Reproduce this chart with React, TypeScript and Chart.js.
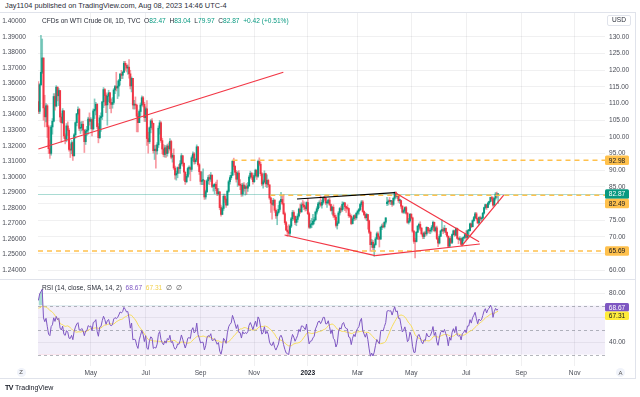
import React, { useEffect, useRef } from 'react';
import { Chart, registerables } from 'chart.js';
Chart.register(...registerables);

const FONT = '"Liberation Sans", Arial, sans-serif';
const UP = '#089981';
const DOWN = '#F23645';
const ORANGE = '#FFC14D';
const GRID = 'rgba(42,46,57,0.07)';
const TEXT = '#4a4d57';

// closes before the visible window (Jan 3 2022 .. Mar 2 2022), used for RSI warm-up
const priorCloses = [
  76.08, 76.99, 77.85, 79.46, 78.9, 78.23, 81.22, 82.64, 82.12, 83.82, 85.43, 86.96, 86.9, 85.14, 83.31, 85.6, 87.35, 86.61, 86.82, 88.15,
  88.2, 88.26, 90.27, 92.31, 91.32, 89.36, 89.66, 89.88, 93.1, 95.46, 92.07, 93.66, 91.76, 91.07, 92.35, 92.1, 92.81, 91.59, 95.72,
  103.41, 110.6,
];

// daily bars from Mar 3 2022 to Aug 8 2023
const closes = [
  107.67, 115.68, 119.4, 123.7, 108.7, 106.02, 109.33, 103.01, 96.44, 95.04, 102.98, 104.7, 112.12, 109.27, 114.93, 112.34, 113.9, 105.96, 104.24, 107.82, 100.28,
  99.27, 103.28, 101.96, 96.23, 96.03, 98.26, 94.29, 100.6, 104.25, 106.95, 108.21, 102.56, 102.75, 103.79, 102.07, 98.54, 101.7, 102.02, 105.36, 104.69,
  105.17, 102.41, 107.81, 108.26, 109.77, 103.09, 99.76, 105.71, 106.13, 110.49, 114.2, 112.4, 109.59, 112.21, 113.23, 110.29, 109.77, 110.33, 114.09, 115.07, 114.67,
  115.26, 116.87, 118.87, 118.5, 119.41, 122.11, 121.51, 120.67, 120.93, 118.93, 115.31, 117.59, 109.56, 109.8, 109.52, 106.19, 104.27, 107.62, 109.57, 111.76, 109.78, 105.76,
  108.43, 99.5, 98.53, 102.73, 104.79, 104.09, 95.84, 96.3, 95.78, 97.59, 102.6, 104.22, 98.88, 96.35, 94.7, 96.7, 94.98, 97.26, 96.42, 98.62,
  93.89, 94.42, 90.66, 88.54, 89.01, 90.76, 90.5, 91.93, 94.34, 92.09, 89.41, 86.53, 88.11, 90.5, 90.77, 90.23, 93.74, 94.89, 92.52, 93.06, 97.01, 91.64, 89.55,
  86.61, 86.87, 86.88, 81.94, 83.54, 86.79, 87.78, 87.31, 88.48, 85.1, 85.11, 85.73, 84.45, 82.94, 83.49, 78.74, 76.71, 78.5, 82.15, 81.23, 79.49,
  83.63, 86.52, 87.76, 88.45, 92.64, 91.13, 89.35, 87.27, 89.11, 85.61, 85.46, 82.82, 85.55, 84.51, 85.05, 84.58, 85.32, 87.91, 89.08, 87.9, 86.53,
  88.37, 90.0, 88.17, 92.61, 91.79, 88.91, 85.83, 86.47, 88.96, 85.87, 86.92, 85.59, 81.64, 80.08, 79.73, 80.95, 77.94, 76.28, 77.24, 78.2, 80.55,
  81.22, 79.98, 76.93, 74.25, 72.01, 71.46, 71.02, 73.17, 75.39, 77.28, 76.11, 74.29, 75.19, 76.23, 78.29, 77.49, 79.56, 79.53, 78.96, 78.4, 80.26,
  76.93, 72.84, 73.67, 73.77, 74.63, 75.12, 77.41, 78.39, 79.86, 80.18, 79.48, 80.33, 81.64, 81.62, 80.13, 80.15, 81.01, 79.68, 77.9, 78.87,
  76.41, 75.88, 73.39, 74.11, 77.14, 78.47, 78.06, 79.72, 80.14, 79.06, 78.59, 78.49, 76.34, 76.16, 73.95, 75.39, 76.32, 75.68, 77.05,
  77.69, 78.16, 79.68, 80.46, 77.58, 76.66, 75.72, 76.68, 74.8, 71.33, 67.61, 68.35, 66.74, 67.64, 69.33, 70.9, 69.96, 69.26, 72.81, 73.2, 72.97, 74.37, 75.67,
  80.42, 80.71, 80.61, 80.7, 79.74, 81.53, 83.26, 82.16, 82.52, 80.83, 80.86, 79.16, 77.37, 77.87, 78.76, 77.07, 74.3, 74.76, 76.78,
  75.66, 71.66, 68.6, 68.56, 71.34, 73.16, 73.71, 72.56, 70.87, 70.04, 71.11, 70.86, 72.83, 71.86, 71.69, 71.99, 72.91, 74.34, 71.83, 72.67, 69.46, 68.09,
  70.1, 71.74, 72.15, 71.74, 72.53, 71.29, 70.17, 67.12, 69.42, 68.27, 70.62, 71.78, 70.5, 72.53, 69.51, 69.16, 69.37, 67.7, 69.56, 69.86, 70.64,
  69.79, 71.79, 71.8, 73.86, 72.99, 74.83, 75.75, 76.89, 75.42, 74.15, 75.75, 75.35, 75.63, 77.07, 78.74, 79.63, 78.78, 80.09, 80.58, 81.8,
  81.37, 79.49, 81.55, 82.82, 82.45, 82.87,
];

const highs = [
  116.6, 116.0, 130.5, 129.4, 123.7, 112.5, 110.0, 109.7, 103.5, 99.0, 103.5, 105.5, 113.0, 113.0, 115.4, 115.0, 114.5, 114.0, 107.0, 108.5, 107.4,
  100.9, 104.0, 104.5, 102.5, 97.8, 98.9, 98.5, 101.0, 104.5, 107.0, 109.0, 108.6, 104.5, 104.6, 104.7, 101.5, 102.3, 103.2, 105.9, 107.2,
  105.8, 105.4, 108.4, 111.4, 110.4, 110.0, 104.0, 106.4, 107.2, 110.7, 114.8, 114.5, 113.2, 112.7, 114.0, 113.4, 111.4, 111.8, 114.5, 115.5, 119.4,
  116.8, 117.3, 119.0, 120.0, 119.7, 122.7, 122.7, 122.0, 121.6, 123.2, 120.0, 118.0, 117.5, 111.0, 112.0, 109.8, 107.0, 108.1, 110.2, 112.3, 112.2, 110.4,
  109.0, 110.9, 101.4, 103.0, 105.2, 105.5, 103.5, 97.4, 97.5, 98.3, 103.3, 104.9, 104.6, 99.6, 97.7, 97.4, 97.4, 97.8, 98.2, 99.5,
  99.0, 95.0, 96.4, 91.2, 89.7, 91.0, 91.7, 92.9, 95.0, 94.3, 92.0, 89.5, 88.7, 90.9, 91.3, 91.0, 94.3, 95.5, 95.3, 93.5, 97.6, 97.1, 92.0,
  89.6, 89.5, 90.4, 87.0, 84.0, 87.2, 88.4, 88.7, 89.3, 88.6, 85.8, 86.0, 86.4, 87.0, 84.5, 83.4, 79.5, 79.0, 82.8, 82.8, 81.6,
  84.0, 87.0, 88.4, 89.4, 93.0, 93.6, 91.4, 89.9, 89.6, 89.9, 87.2, 86.0, 86.1, 86.3, 85.5, 86.0, 86.3, 88.4, 89.7, 89.3, 88.5,
  89.1, 90.3, 90.0, 93.0, 93.7, 92.4, 89.3, 87.0, 89.8, 89.1, 88.6, 87.3, 85.6, 81.9, 80.9, 81.5, 81.2, 78.4, 77.6, 79.4, 80.9,
  83.3, 82.4, 82.7, 77.4, 74.6, 73.2, 73.6, 73.6, 75.8, 77.9, 77.8, 76.3, 76.0, 76.9, 78.6, 79.8, 80.2, 80.9, 80.5, 79.3, 80.5,
  81.5, 77.4, 74.9, 75.5, 76.7, 75.8, 77.7, 79.0, 80.3, 80.8, 82.3, 80.9, 81.9, 82.1, 81.7, 80.8, 81.3, 81.6, 79.8, 79.1,
  79.6, 77.1, 76.5, 74.7, 77.6, 78.8, 79.2, 80.5, 80.4, 80.3, 79.1, 79.6, 78.6, 77.1, 76.6, 75.8, 76.5, 76.7, 77.3,
  78.0, 78.5, 80.0, 80.9, 80.9, 77.8, 77.3, 77.0, 76.6, 75.0, 71.7, 69.2, 68.9, 67.9, 69.8, 71.4, 71.5, 70.2, 73.2, 73.8, 74.1, 74.5, 75.7,
  81.8, 81.1, 81.8, 80.9, 80.9, 81.8, 83.5, 83.5, 83.0, 82.6, 81.3, 81.0, 79.4, 78.3, 79.0, 79.1, 77.3, 75.5, 76.9,
  76.9, 75.9, 71.9, 69.5, 71.6, 73.4, 74.1, 74.5, 72.8, 71.2, 71.5, 71.7, 73.0, 72.8, 72.5, 72.5, 73.4, 74.7, 74.4, 73.0, 73.2, 69.7,
  70.6, 72.0, 75.1, 72.7, 73.4, 72.6, 71.5, 70.2, 69.7, 70.1, 70.9, 72.0, 72.0, 72.7, 72.6, 69.8, 70.0, 69.6, 69.8, 70.0, 70.9,
  71.8, 72.0, 72.2, 74.1, 74.1, 75.1, 76.1, 77.3, 77.3, 75.6, 76.0, 76.2, 75.9, 77.3, 78.9, 79.8, 79.6, 80.4, 80.7, 81.9,
  82.2, 81.9, 81.8, 83.3, 83.4, 83.04,
];

const lows = [
  107.0, 107.0, 115.4, 119.0, 105.0, 103.0, 104.5, 99.8, 95.0, 93.5, 94.5, 100.8, 104.5, 108.0, 109.0, 110.8, 109.4, 104.5, 98.4, 104.0, 99.5,
  97.9, 98.5, 100.4, 95.7, 93.8, 94.9, 92.9, 94.8, 99.6, 103.3, 106.6, 101.9, 101.0, 101.8, 101.0, 95.3, 97.7, 100.4, 100.8, 103.5,
  102.4, 100.3, 102.0, 105.5, 106.6, 102.5, 98.2, 99.5, 101.6, 105.2, 108.8, 109.4, 107.3, 103.5, 110.6, 108.5, 107.2, 108.6, 109.8, 113.0, 113.8,
  111.5, 112.2, 115.5, 117.5, 117.5, 119.3, 120.0, 119.5, 118.8, 117.6, 114.4, 113.5, 108.4, 108.3, 108.4, 101.5, 101.5, 104.4, 106.2, 109.3, 109.0, 104.6,
  104.6, 97.4, 95.1, 98.0, 101.2, 102.2, 95.1, 93.2, 90.6, 94.8, 96.8, 100.8, 98.3, 94.9, 94.0, 93.9, 93.8, 94.2, 95.3, 96.0,
  93.4, 92.4, 90.2, 87.3, 87.0, 87.7, 89.1, 89.0, 91.5, 91.2, 86.9, 85.7, 86.2, 87.7, 88.8, 86.8, 89.6, 92.8, 91.8, 91.9, 92.6, 91.2, 88.7,
  85.7, 85.6, 85.6, 81.2, 81.3, 83.2, 85.8, 85.6, 86.6, 84.7, 83.7, 82.9, 83.8, 82.3, 82.5, 78.1, 76.2, 76.6, 77.9, 80.3, 78.8,
  79.6, 83.3, 85.8, 87.2, 88.6, 90.2, 88.6, 86.4, 85.1, 85.3, 84.1, 82.1, 82.2, 83.7, 82.5, 82.7, 83.6, 85.0, 87.5, 87.2, 85.8,
  86.3, 87.9, 87.2, 87.8, 91.3, 88.3, 85.3, 84.6, 86.2, 85.0, 84.7, 85.0, 81.2, 77.3, 75.3, 79.3, 77.3, 75.5, 73.6, 76.8, 77.6,
  80.5, 79.6, 76.6, 73.7, 71.8, 70.1, 70.4, 70.3, 72.7, 74.8, 75.0, 73.6, 73.3, 74.4, 75.9, 77.0, 77.3, 78.8, 78.1, 77.7, 77.9,
  76.6, 72.5, 72.5, 72.7, 73.5, 73.8, 74.8, 76.8, 77.9, 78.7, 79.1, 78.6, 79.8, 80.9, 79.6, 78.8, 80.0, 79.3, 77.7, 76.8,
  75.8, 75.1, 72.9, 72.3, 73.9, 76.5, 77.4, 77.6, 78.3, 77.8, 77.3, 78.0, 75.8, 75.8, 73.6, 73.8, 74.8, 75.0, 75.2,
  76.5, 76.8, 77.8, 79.1, 77.3, 76.3, 75.3, 74.8, 72.3, 70.9, 65.6, 66.8, 66.1, 64.1, 67.4, 69.3, 69.1, 66.9, 69.5, 72.1, 72.7, 72.6, 73.8,
  79.3, 79.5, 79.8, 79.6, 79.1, 79.4, 81.0, 81.8, 81.4, 80.3, 80.0, 78.5, 77.1, 77.0, 77.1, 76.8, 74.0, 73.8, 74.4,
  75.3, 71.3, 68.0, 63.6, 68.4, 71.3, 72.2, 71.9, 70.5, 69.4, 69.4, 70.1, 70.4, 71.2, 71.0, 70.9, 71.4, 72.6, 71.5, 71.4, 69.1, 67.0,
  67.8, 70.1, 71.6, 70.9, 71.3, 70.6, 69.9, 66.8, 67.2, 67.9, 67.9, 70.5, 70.1, 70.3, 69.3, 67.9, 68.8, 67.4, 67.9, 68.8, 69.5,
  69.1, 69.5, 70.1, 71.7, 72.7, 73.0, 74.6, 75.6, 75.0, 73.9, 73.6, 74.8, 74.5, 75.3, 76.8, 78.3, 78.2, 78.7, 79.6, 80.4,
  80.8, 79.1, 79.2, 81.0, 81.7, 79.97,
];

// opens that differ from the previous close (gaps)
const gapOpens: Record<number, number> = { 273: 79.9, 360: 82.47 };

const monthTicks = [41, 84, 127, 169, 211, 250, 292, 335, 378, 420];
const monthLabels = ['May', 'Jul', 'Sep', 'Nov', '2023', 'Mar', 'May', 'Jul', 'Sep', 'Nov'];
const priceTicks = [60, 65, 70, 75, 80, 85, 90, 95, 100, 105, 110, 115, 120, 125, 130];
const leftTicks = [1.24, 1.25, 1.26, 1.27, 1.28, 1.29, 1.3, 1.31, 1.32, 1.33, 1.34, 1.35, 1.36, 1.37, 1.38, 1.39, 1.4];
const rsiTicks = [40, 60, 80];
const rsiLevels = [70, 50, 30];

const lastPrice = 82.87;
const levels = [
  { price: 92.98, fromIdx: 152 },
  { price: 82.49, fromIdx: 181.6 },
  { price: 65.69, fromIdx: -1 },
];
const trendLines = [
  { from: [0, 96.35], to: [191.8, 119.4], color: DOWN },
  { from: [202.5, 81.33], to: [279.3, 83.22], color: '#000000' },
  { from: [192.8, 70.51], to: [263.7, 64.3], color: DOWN },
  { from: [263.7, 64.3], to: [345.7, 67.81], color: DOWN },
  { from: [279.3, 83.22], to: [345.1, 68.5], color: DOWN },
  { from: [331.4, 67.21], to: [364.4, 82.53], color: DOWN },
];
const rsiLast = 68.67;
const smaLast = 67.31;

const X_MIN = -0.3;
const X_MAX = 443.7;

function computeRsi(values: number[], len: number) {
  const out: number[] = new Array(values.length).fill(NaN);
  let g = 0, l = 0;
  for (let i = 1; i < values.length; i++) {
    const ch = values[i] - values[i - 1];
    const up = Math.max(ch, 0), dn = Math.max(-ch, 0);
    if (i <= len) {
      g += up / len; l += dn / len;
      if (i === len) out[i] = l === 0 ? 100 : 100 - 100 / (1 + g / l);
    } else {
      g = (g * (len - 1) + up) / len;
      l = (l * (len - 1) + dn) / len;
      out[i] = l === 0 ? 100 : 100 - 100 / (1 + g / l);
    }
  }
  return out;
}
function sma(values: number[], len: number) {
  return values.map((_, i) => {
    if (i < len - 1) return NaN;
    let s = 0;
    for (let k = i - len + 1; k <= i; k++) s += values[k];
    return s / len;
  });
}

function tagRect(ctx: CanvasRenderingContext2D, x: number, y: number, w: number, h: number, bg: string, fg: string, text: string) {
  ctx.fillStyle = bg;
  ctx.beginPath();
  (ctx as any).roundRect ? (ctx as any).roundRect(x, y - h / 2, w, h, 1.5) : ctx.rect(x, y - h / 2, w, h);
  ctx.fill();
  ctx.fillStyle = fg;
  ctx.font = `6.6px ${FONT}`;
  ctx.textAlign = 'center';
  ctx.textBaseline = 'middle';
  ctx.fillText(text, x + w / 2, y + 0.5);
}

export default function App() {
  const mainRef = useRef<HTMLCanvasElement>(null);
  const rsiRef = useRef<HTMLCanvasElement>(null);

  useEffect(() => {
    const opens = closes.map((c, i) =>
      gapOpens[i] !== undefined ? gapOpens[i] : i === 0 ? priorCloses[priorCloses.length - 1] : closes[i - 1]
    );
    const colors = closes.map((c, i) => (c >= opens[i] ? UP : DOWN));
    const wickColors = closes.map((c, i) => (c >= opens[i] ? 'rgba(8,153,129,0.5)' : 'rgba(242,54,69,0.5)'));
    const wickData = closes.map((c, i) => ({
      x: i,
      y: [Math.min(lows[i], opens[i], c), Math.max(highs[i], opens[i], c)],
    }));
    const bodyData = closes.map((c, i) => ({ x: i, y: [Math.min(opens[i], c), Math.max(opens[i], c)] }));

    const all = priorCloses.concat(closes);
    const rsiAll = computeRsi(all, 14);
    const smaAll = sma(rsiAll, 14);
    const off = priorCloses.length;
    const rsiPts = closes.map((_, i) => ({ x: i, y: rsiAll[off + i] }));
    const smaPts = closes.map((_, i) => ({ x: i, y: smaAll[off + i] }));

    const tickFont = { size: 6.6, family: FONT };

    const mainOverlay = {
      id: 'mainOverlay',
      afterDatasetsDraw(chart: any) {
        const { ctx, chartArea: a, scales } = chart;
        const xs = scales.x, ys = scales.y;
        ctx.save();
        ctx.beginPath();
        ctx.rect(a.left, a.top, a.right - a.left, a.bottom - a.top);
        ctx.clip();
        // current price line
        const yp = Math.round(ys.getPixelForValue(lastPrice)) + 0.5;
        ctx.strokeStyle = 'rgba(8,153,129,0.35)';
        ctx.lineWidth = 1;
        ctx.beginPath();
        ctx.moveTo(a.left, yp);
        ctx.lineTo(a.right, yp);
        ctx.stroke();
        // horizontal levels
        ctx.strokeStyle = ORANGE;
        ctx.lineWidth = 1.5;
        ctx.setLineDash([5, 4]);
        levels.forEach((lv) => {
          const y = ys.getPixelForValue(lv.price);
          ctx.beginPath();
          ctx.moveTo(Math.max(a.left, xs.getPixelForValue(lv.fromIdx)), y);
          ctx.lineTo(a.right, y);
          ctx.stroke();
        });
        ctx.setLineDash([]);
        // trend lines
        ctx.lineWidth = 1.2;
        trendLines.forEach((t) => {
          ctx.strokeStyle = t.color;
          ctx.beginPath();
          ctx.moveTo(xs.getPixelForValue(t.from[0]), ys.getPixelForValue(t.from[1]));
          ctx.lineTo(xs.getPixelForValue(t.to[0]), ys.getPixelForValue(t.to[1]));
          ctx.stroke();
        });
        ctx.restore();
      },
      afterDraw(chart: any) {
        const { ctx, chartArea: a, scales } = chart;
        const ys = scales.y;
        const tags = [
          { v: 92.98, bg: ORANGE, fg: '#131722' },
          { v: lastPrice, bg: UP, fg: '#ffffff' },
          { v: 82.49, bg: ORANGE, fg: '#131722' },
          { v: 65.69, bg: ORANGE, fg: '#131722' },
        ];
        const h = 9.5;
        let prev = -1e9;
        ctx.save();
        tags.forEach((t) => {
          let y = ys.getPixelForValue(t.v);
          if (y < prev + h) y = prev + h;
          prev = y;
          tagRect(ctx, a.right, y, 24, h, t.bg, t.fg, t.v.toFixed(2));
        });
        ctx.restore();
      },
    };

    const main = new Chart(mainRef.current!, {
      type: 'bar',
      data: {
        datasets: [
          { data: wickData as any, backgroundColor: wickColors, barThickness: 1, grouped: false, borderWidth: 0, yAxisID: 'y' } as any,
          { data: bodyData as any, backgroundColor: colors, barThickness: 1.3, grouped: false, borderWidth: 0, minBarLength: 1, yAxisID: 'y' } as any,
        ],
      },
      options: {
        responsive: false,
        animation: false,
        devicePixelRatio: 1,
        events: [],
        layout: { padding: 0 },
        plugins: { legend: { display: false }, tooltip: { enabled: false } },
        scales: {
          x: {
            type: 'linear', min: X_MIN, max: X_MAX, offset: false,
            grid: { color: GRID, drawTicks: false, offset: false },
            border: { display: false },
            ticks: { display: false },
            afterBuildTicks: (s: any) => { s.ticks = monthTicks.map((v) => ({ value: v })); },
            afterFit: (s: any) => { s.height = 0; s.paddingLeft = 0; s.paddingRight = 0; },
          },
          y: {
            type: 'linear', position: 'right', min: 56.996, max: 137.21,
            grid: { color: GRID, drawTicks: false },
            border: { display: false },
            ticks: { font: tickFont, color: TEXT, padding: 4, callback: (v: any) => Number(v).toFixed(2) },
            afterBuildTicks: (s: any) => { s.ticks = priceTicks.map((v) => ({ value: v })); },
            afterFit: (s: any) => { s.width = 35; s.paddingTop = 0; s.paddingBottom = 0; },
          },
          yL: {
            type: 'linear', position: 'left', min: 1.233562, max: 1.405451,
            grid: { display: false },
            border: { display: false },
            ticks: { font: tickFont, color: TEXT, padding: 4, callback: (v: any) => Number(v).toFixed(5) },
            afterBuildTicks: (s: any) => { s.ticks = leftTicks.map((v) => ({ value: v })); },
            afterFit: (s: any) => { s.width = 38; s.paddingTop = 0; s.paddingBottom = 0; },
          },
        } as any,
      },
      plugins: [mainOverlay],
    });

    const rsiOverlay = {
      id: 'rsiOverlay',
      beforeDatasetsDraw(chart: any) {
        const { ctx, chartArea: a, scales } = chart;
        const ys = scales.y;
        ctx.save();
        const y70 = ys.getPixelForValue(70), y30 = ys.getPixelForValue(30);
        ctx.fillStyle = 'rgba(126,87,194,0.1)';
        ctx.fillRect(a.left, y70, a.right - a.left, y30 - y70);
        ctx.strokeStyle = 'rgba(120,123,134,0.55)';
        ctx.lineWidth = 1;
        ctx.setLineDash([3, 3]);
        rsiLevels.forEach((v) => {
          const y = Math.round(ys.getPixelForValue(v)) + 0.5;
          ctx.beginPath();
          ctx.moveTo(a.left, y);
          ctx.lineTo(a.right, y);
          ctx.stroke();
        });
        ctx.restore();
      },
      afterDraw(chart: any) {
        const { ctx, chartArea: a, scales } = chart;
        const ys = scales.y;
        const h = 8.5;
        ctx.save();
        const y1 = ys.getPixelForValue(rsiLast);
        let y2 = ys.getPixelForValue(smaLast);
        if (y2 < y1 + h) y2 = y1 + h;
        tagRect(ctx, a.right, y1, 24, h, '#7E57C2', '#ffffff', rsiLast.toFixed(2));
        tagRect(ctx, a.right, y2, 24, h, '#FFEB3B', '#131722', smaLast.toFixed(2));
        ctx.restore();
      },
    };

    const rsi = new Chart(rsiRef.current!, {
      type: 'line',
      data: {
        datasets: [
          {
            data: rsiPts as any, borderColor: '#7E57C2', borderWidth: 1, pointRadius: 0, yAxisID: 'y',
            fill: { target: { value: 70 }, above: 'rgba(8,153,129,0.35)', below: 'rgba(0,0,0,0)' },
          } as any,
          {
            data: rsiPts as any, borderColor: 'rgba(0,0,0,0)', borderWidth: 0, pointRadius: 0, yAxisID: 'y',
            fill: { target: { value: 30 }, above: 'rgba(0,0,0,0)', below: 'rgba(242,54,69,0.35)' },
          } as any,
          { data: smaPts as any, borderColor: '#F7DC5A', borderWidth: 1, pointRadius: 0, fill: false, yAxisID: 'y' } as any,
        ],
      },
      options: {
        responsive: false,
        animation: false,
        devicePixelRatio: 1,
        events: [],
        layout: { padding: { left: 38, right: 0, top: 0, bottom: 0 } },
        plugins: { legend: { display: false }, tooltip: { enabled: false } },
        scales: {
          x: {
            type: 'linear', min: X_MIN, max: X_MAX, offset: false,
            grid: { color: GRID, drawTicks: false, offset: false },
            border: { display: false },
            ticks: {
              autoSkip: false, maxRotation: 0, padding: 3,
              font: (c: any) => ({ size: 6.6, family: FONT, weight: c.tick && c.tick.value === 211 ? 'bold' : 'normal' }),
              color: (c: any) => (c.tick && c.tick.value === 211 ? '#131722' : TEXT),
              callback: (v: any) => {
                const k = monthTicks.indexOf(Number(v));
                return k >= 0 ? monthLabels[k] : '';
              },
            },
            afterBuildTicks: (s: any) => { s.ticks = monthTicks.map((v) => ({ value: v })); },
            afterFit: (s: any) => { s.height = 12; s.paddingLeft = 0; s.paddingRight = 0; },
          },
          y: {
            type: 'linear', position: 'right', min: 20.65, max: 90.86,
            grid: { color: GRID, drawTicks: false },
            border: { display: false },
            ticks: { font: tickFont, color: TEXT, padding: 4, callback: (v: any) => Number(v).toFixed(2) },
            afterBuildTicks: (s: any) => { s.ticks = rsiTicks.map((v) => ({ value: v })); },
            afterFit: (s: any) => { s.width = 35; s.paddingTop = 0; s.paddingBottom = 0; },
          },
        } as any,
      },
      plugins: [rsiOverlay],
    });

    return () => {
      main.destroy();
      rsi.destroy();
    };
  }, []);

  const line = (style: React.CSSProperties) => <div style={{ position: 'absolute', background: '#E0E3EB', ...style }} />;
  const txt: React.CSSProperties = { position: 'absolute', fontFamily: FONT, whiteSpace: 'nowrap', lineHeight: 1 };

  return (
    <div style={{ position: 'absolute', left: 0, top: 0, width: 640, height: 397, background: '#ffffff', overflow: 'hidden' }}>
      <canvas ref={mainRef} width={640} height={267} style={{ position: 'absolute', left: 0, top: 13, width: 640, height: 267 }} />
      <canvas ref={rsiRef} width={640} height={98} style={{ position: 'absolute', left: 0, top: 280, width: 640, height: 98 }} />
      {line({ left: 0, top: 12, width: 636, height: 1 })}
      {line({ left: 0, top: 279, width: 636, height: 1 })}
      {line({ left: 0, top: 378, width: 636, height: 1 })}
      {line({ left: 635, top: 12, width: 1, height: 367 })}

      <div style={{ ...txt, left: 5, top: 2.2, fontSize: 7.4, color: '#2a2e39' }}>
        Jay1104 published on TradingView.com, Aug 08, 2023 14:46 UTC-4
      </div>
      <div style={{ ...txt, left: 42, top: 18.4, fontSize: 6.6, color: '#2a2e39' }}>
        CFDs on WTI Crude Oil, 1D, TVC&nbsp;&nbsp;O<span style={{ color: UP }}>82.47</span>&nbsp;&nbsp;H<span style={{ color: UP }}>83.04</span>&nbsp;&nbsp;L<span style={{ color: UP }}>79.97</span>&nbsp;&nbsp;C<span style={{ color: UP }}>82.87</span>&nbsp;&nbsp;<span style={{ color: UP }}>+0.42 (+0.51%)</span>
      </div>
      <div style={{ ...txt, left: 607, top: 15, width: 24, height: 11, border: '1px solid #E0E3EB', borderRadius: 2, fontSize: 6.6, color: '#2a2e39', display: 'flex', alignItems: 'center', justifyContent: 'center', background: '#fff', boxSizing: 'border-box' }}>
        USD
      </div>
      <div style={{ ...txt, left: 42, top: 285, fontSize: 6.6, color: '#2a2e39' }}>
        RSI (14, close, SMA, 14, 2)&nbsp;&nbsp;<span style={{ color: '#7E57C2' }}>68.67</span>&nbsp;&nbsp;<span style={{ color: '#F2D04B' }}>67.31</span>&nbsp;&nbsp;<span style={{ color: '#555' }}>∅&nbsp;&nbsp;∅</span>
      </div>
      <div style={{ ...txt, left: 16.5, top: 367.5, width: 9, height: 9, borderRadius: 5, background: '#F0F3FA', fontSize: 6, color: '#555', display: 'flex', alignItems: 'center', justifyContent: 'center' }}>Z</div>
      <div style={{ ...txt, left: 616, top: 368, width: 9, height: 9, borderRadius: 5, background: '#F0F3FA', fontSize: 6, color: '#555', display: 'flex', alignItems: 'center', justifyContent: 'center' }}>A</div>
      <div style={{ ...txt, left: 5, top: 384, fontSize: 7, color: '#131722' }}>
        <span style={{ fontWeight: 900, letterSpacing: -0.5 }}>TV</span>&nbsp;TradingView
      </div>
    </div>
  );
}
